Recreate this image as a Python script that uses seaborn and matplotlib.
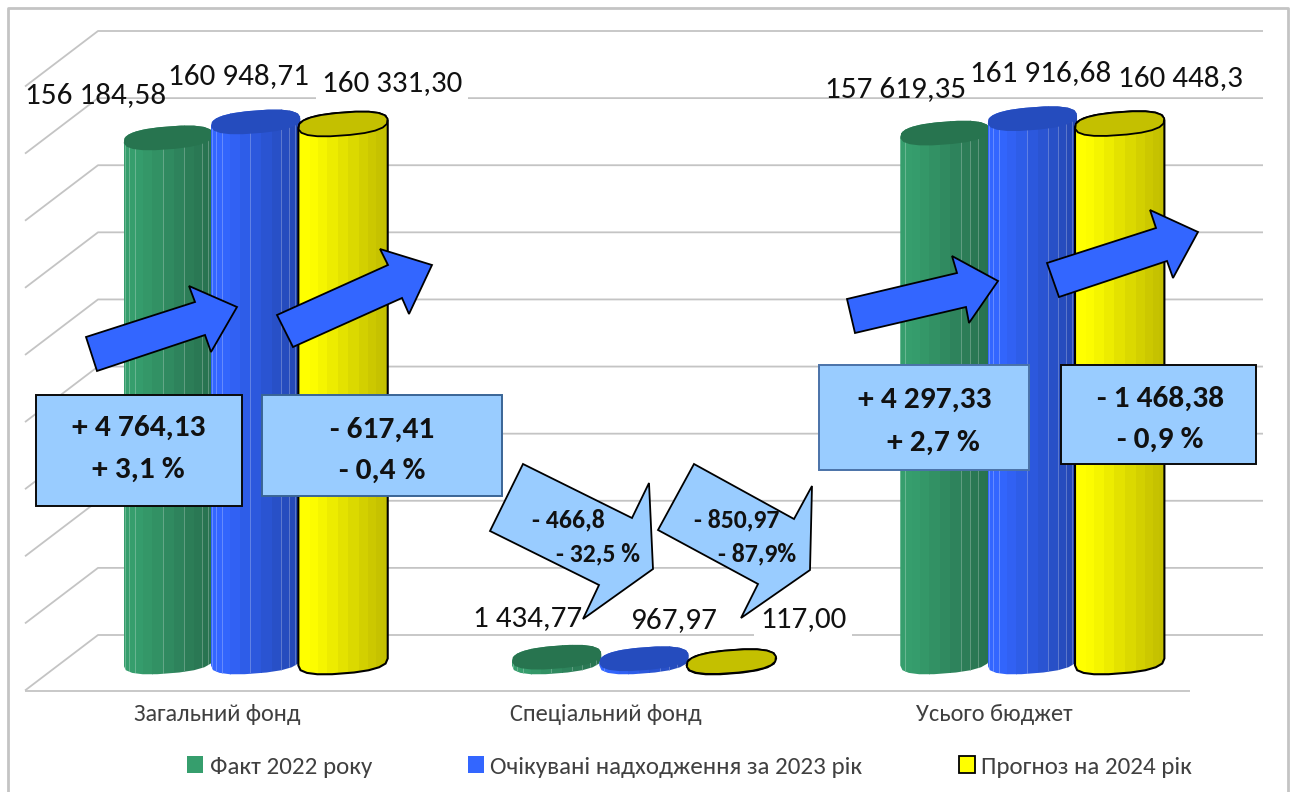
import logging
import numpy as np
import pandas as pd
import matplotlib
matplotlib.use("Agg")
import matplotlib.pyplot as plt
import seaborn as sns
from matplotlib.patches import Polygon, Rectangle
from matplotlib.transforms import Affine2D
from matplotlib.colors import to_rgb

# ---- data ----
categories = ["Загальний фонд", "Спеціальний фонд", "Усього бюджет"]
series_names = ["Факт 2022 року", "Очікувані надходження за 2023 рік", "Прогноз на 2024 рік"]
fact_2022 = [156184.58, 1434.77, 157619.35]
expected_2023 = [160948.71, 967.97, 161916.68]
forecast_2024 = [160331.30, 117.00, 160448.3]
fact_labels = ["156 184,58", "1 434,77", "157 619,35"]
expected_labels = ["160 948,71", "967,97", "161 916,68"]
forecast_labels = ["160 331,30", "117,00", "160 448,3"]
box_texts = [("+ 4 764,13", "+ 3,1 %"), ("- 617,41", "- 0,4 %"),
             ("+ 4 297,33", "+ 2,7 %"), ("- 1 468,38", "- 0,9 %")]
arrow_texts = [("- 466,8", "- 32,5 %"), ("- 850,97", "- 87,9%")]
grid_values = list(range(0, 200000, 20000))

# ---- style / layout ----
W, H = 1292, 792
logging.getLogger("matplotlib.font_manager").setLevel(logging.ERROR)
sns.set_theme(style="white")
FONT = ["Carlito", "Lato", "Open Sans", "DejaVu Sans"]
plt.rcParams["font.family"] = FONT

light = {0: "#369E6D", 1: "#3366FF", 2: "#FFFF00"}
dark = {0: "#287250", 1: "#2448B4", 2: "#C4C000"}
cap = {0: "#27744F", 1: "#254CBE", 2: "#C4C000"}
GRID = "#C4C4C4"
TXT = "#404040"
BOX = "#99CCFF"

fig = plt.figure(figsize=(W / 100, H / 100), dpi=100, facecolor="white")
ax = fig.add_axes([61.5 / W, (H - 662) / H, (1226.5 - 61.5) / W, 604 / H])
ax.patch.set_alpha(0)
px = Affine2D().scale(1, -1).translate(0, H)

df = pd.DataFrame({
    "cat": categories * 3,
    "series": [s for s in series_names for _ in categories],
    "val": fact_2022 + expected_2023 + forecast_2024,
})
sns.barplot(data=df, x="cat", y="val", hue="series", palette=list(light.values()),
            width=0.675, gap=0, dodge=True, ax=ax, errorbar=None, linewidth=0)
ax.set_xlim(-0.5, 2.5)
ax.set_ylim(0, 180000)
ax.set_yticks([])
ax.set_xlabel("")
ax.set_ylabel("")
sns.despine(ax=ax, left=True, bottom=True)
ax.tick_params(axis="x", length=0, pad=30.5, labelsize=17.6, labelcolor=TXT)
for t in ax.get_xticklabels():
    t.set_transform(t.get_transform() + Affine2D().translate(-38, 0))
fig.canvas.draw()

def add(p):
    p.set_transform(px)
    p.set_clip_on(False)
    ax.add_artist(p)
    return p

def clip_to(p, shape):
    p.set_clip_box(None)
    p.set_clip_path(shape)
    p.set_clip_on(True)

def line(xs, ys, z=0.5, lw=1.3):
    ax.plot(xs, ys, transform=px, color=GRID, lw=lw, clip_on=False, zorder=z,
            solid_capstyle="butt", scalex=False, scaley=False)

# frame
line([8, 8, 1288, 1288], [H, 8, 8, H], z=0.4, lw=2.0)

# 3-D wall and floor derived from the value scale
WALL_DY = -27
for v in grid_values:
    y = H - ax.transData.transform((0, v))[1] + WALL_DY
    line([25, 98, 1263], [y + 55.5, y, y])
y0 = H - ax.transData.transform((0, 0))[1] + WALL_DY
line([25, 1190], [y0 + 55.5, y0 + 55.5])

# cylinders built on the seaborn bars
B, K, P = 11.5, 3.5, 0.8
def ell(cx, cy, a, ts):
    c, s = np.cos(ts), np.sin(ts)
    cp, sp = np.sign(c) * np.abs(c) ** P, np.sign(s) * np.abs(s) ** P
    return np.c_[cx + a * cp, cy - B * sp - K * cp]

for j, cont in enumerate(ax.containers):
    for rect in cont:
        (xl, yb) = ax.transData.transform((rect.get_x(), 0))
        (xr, yt) = ax.transData.transform((rect.get_x() + rect.get_width(), rect.get_height()))
        yb, yt = H - yb, H - yt
        cx, a = (xl + xr) / 2, (xr - xl) / 2 + 1.0
        top = ell(cx, yt, a, np.linspace(0, np.pi, 10))
        bot = ell(cx, yb, a, np.linspace(np.pi, 2 * np.pi, 10))
        body_xy = np.vstack([top, bot])
        z = 2 + j
        body = add(Polygon(body_xy, closed=True, fc="none", ec="none", zorder=z))
        rect.set_zorder(z)
        clip_to(rect, body)
        # facets
        n = 13
        edges = cx - a * np.cos(np.linspace(0, np.pi, n + 1))
        c0, c1 = np.array(to_rgb(light[j])), np.array(to_rgb(dark[j]))
        for i in range(n):
            f = min(1, max(0, ((edges[i] + edges[i + 1]) / 2 - (xl + a * 0.25)) / (1.6 * a)))
            s = add(Rectangle((edges[i], yt - 16), edges[i + 1] - edges[i] + 0.5, yb - yt + 34,
                              fc=c0 + (c1 - c0) * f, ec="none", zorder=z + 0.01))
            clip_to(s, body)
            if j < 2 and i in (1, 2, 3, 6, 8, 9, 10, 11):
                ln = add(Rectangle((edges[i], yt - 16), 0.8, yb - yt + 34, fc="white",
                                   alpha=0.25, ec="none", zorder=z + 0.02))
                clip_to(ln, body)
        capxy = ell(cx, yt, a, np.linspace(0, 2 * np.pi, 21)[:-1] + 0.1)
        edge = "black" if j == 2 else "none"
        add(Polygon(body_xy, closed=True, fc="none", ec=edge, lw=1.5, zorder=z + 0.03))
        add(Polygon(capxy, closed=True, fc=cap[j], ec=edge, lw=1.3, zorder=z + 0.04))

# data labels
label_pos = {
    0: [(96, 95), (528, 618), (896, 89)],
    1: [(238, 76), (673, 620), (1041, 73)],
    2: [(392, 83), (803, 619), (1180, 78)],
}
for j, labs in enumerate([fact_labels, expected_labels, forecast_labels]):
    for (x, y), s in zip(label_pos[j], labs):
        bb = dict(fc="white", ec="none", pad=4) if j == 2 else None
        ax.text(x, y, s, transform=px, ha="center", va="center", fontsize=22.4,
                color="#111111", zorder=8, bbox=bb, clip_on=False)

# change arrows
up_arrows = [
    [(86, 337), (195, 302), (189, 286), (237, 307), (211, 352), (205, 335), (97, 371)],
    [(277, 315), (388, 265), (380, 249), (432, 265), (409, 314), (402, 298), (293, 347)],
    [(847, 299), (957, 273), (952, 256), (998, 281), (969, 323), (966, 307), (855, 333)],
    [(1047, 263), (1156, 228), (1150, 210), (1198, 232), (1173, 278), (1167, 261), (1059, 297)],
]
for pts in up_arrows:
    add(Polygon(pts, closed=True, fc="#3366FF", ec="black", lw=1.3, zorder=9, joinstyle="miter"))

down_arrows = [
    [(523, 464), (632, 518), (649, 483), (653, 569), (583, 619), (599, 585), (490, 531)],
    [(694, 464), (794, 519), (812, 486), (810, 570), (741, 618), (758, 584), (658, 530)],
]
for pts in down_arrows:
    add(Polygon(pts, closed=True, fc=BOX, ec="black", lw=1.3, zorder=9, joinstyle="miter"))
arrow_text_pos = [((568, 520), (598, 554)), ((737, 520), (757, 554))]
for pair, poss in zip(arrow_texts, arrow_text_pos):
    for s, (x, y) in zip(pair, poss):
        ax.text(x, y, s, transform=px, ha="center", va="center", fontsize=18.5,
                fontweight="bold", color="#111111", zorder=10, clip_on=False)

# change boxes
boxes = [(36, 395, 206, 111, "#0A0A0A"), (262, 395, 240, 101, "#3A6596"),
         (819, 365, 210, 105, "#4A72A8"), (1061, 365, 195, 99, "#0A0A0A")]
box_text_pos = [((139, 428), (138, 470)), ((382, 430), (382, 471)),
                ((925, 400), (933, 443)), ((1161, 399), (1160, 440))]
for (x, y, w, h, ec), pair, poss in zip(boxes, box_texts, box_text_pos):
    add(Rectangle((x, y), w, h, fc=BOX, ec=ec, lw=1.4, zorder=11))
    for s, (tx, ty) in zip(pair, poss):
        ax.text(tx, ty, s, transform=px, ha="center", va="center", fontsize=22.6,
                fontweight="bold", color="#111111", zorder=12, clip_on=False)

# legend
sns.move_legend(ax, "center left", bbox_to_anchor=(187 / W, 1 - 767 / H),
                bbox_transform=fig.transFigure, ncol=3, frameon=False, title=None,
                prop={"family": FONT, "size": 18}, labelcolor=TXT,
                handlelength=0.64, handleheight=0.64,
                handletextpad=0.26, columnspacing=3.84, borderpad=0, borderaxespad=0)
leg = ax.get_legend()
leg.set_zorder(12)
for j, h in enumerate(leg.legend_handles):
    h.set_facecolor(light[j])
    h.set_edgecolor("black" if j == 2 else "none")
    h.set_linewidth(1.3 if j == 2 else 0)

fig.savefig("out.png", dpi=100, facecolor="white")
